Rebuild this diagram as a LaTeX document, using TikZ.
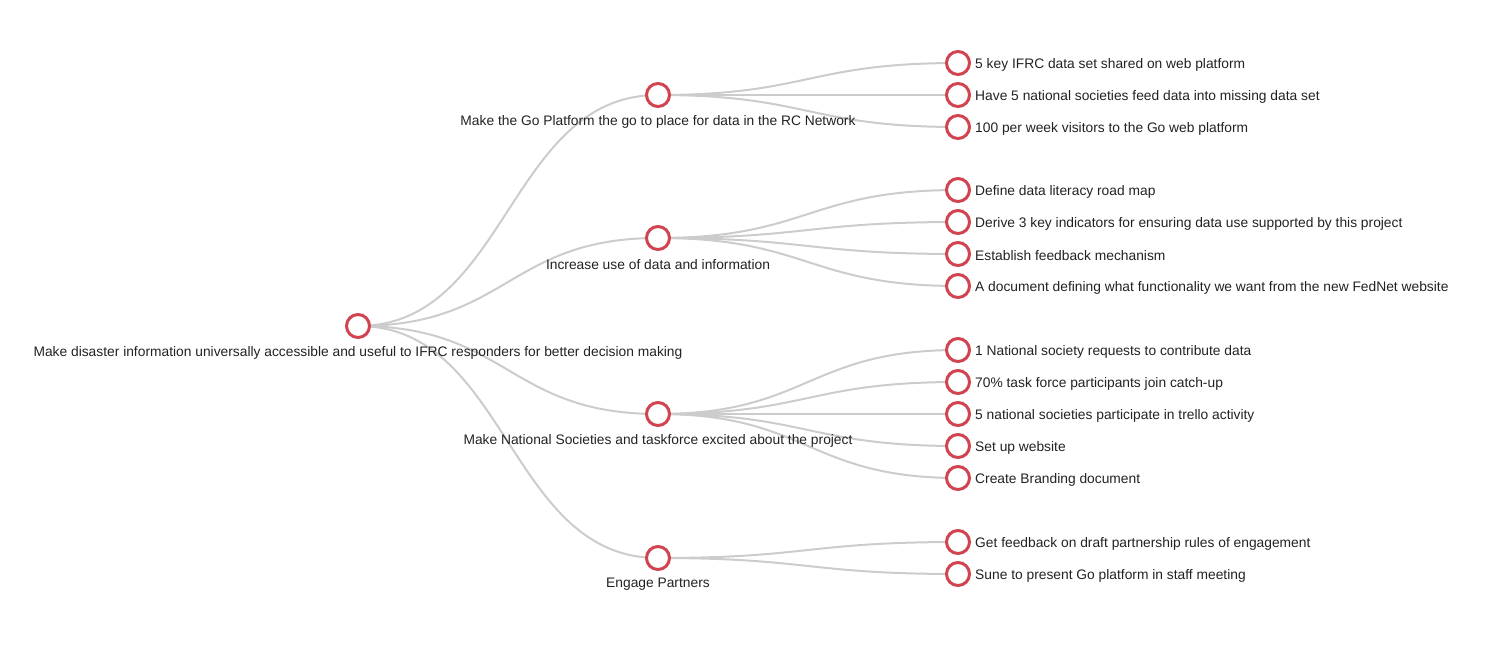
\documentclass[tikz,border=0pt]{standalone}
\usepackage{fontspec}
\setmainfont{Liberation Sans}
\usetikzlibrary{calc,backgrounds}
\definecolor{linkgray}{HTML}{CCCCCC}
\definecolor{goalred}{HTML}{D0434F}
\definecolor{textdark}{HTML}{222222}
\tikzset{
  goal/.style={circle, draw=goalred, line width=3pt, fill=white,
    minimum size=23pt, inner sep=0pt},
  link/.style={draw=linkgray, line width=2pt},
  lbl/.style={font=\fontsize{13.8}{16}\selectfont, text=textdark, inner sep=0pt},
}

\begin{document}
\begin{tikzpicture}[x=1pt, y=-1pt]
  \useasboundingbox (0,0) rectangle (1493,650);
  % root goal
  \node[goal] (root) at (358,326) {};
  \node[lbl] (root_lbl) at ($(root)+(0,26.5)$)
    {Make disaster information universally accessible and useful to IFRC responders for better decision making};
  % sub goals
  \node[goal] (go) at (658,95) {};
  \node[goal] (use) at (658,238) {};
  \node[goal] (ns) at (658,414) {};
  \node[goal] (partners) at (658,558) {};
  \node[lbl] (go_lbl) at ($(go)+(0,26.5)$) {Make the Go Platform the go to place for data in the RC Network};
  \node[lbl] (use_lbl) at ($(use)+(0,26.5)$) {Increase use of data and information};
  \node[lbl] (ns_lbl) at ($(ns)+(0,26.5)$) {Make National Societies and taskforce excited about the project};
  \node[lbl] (partners_lbl) at ($(partners)+(0,26.5)$) {Engage Partners};
  % targets
  \foreach \name/\parent/\y/\txt in {
      go_a/go/63/{5 key IFRC data set shared on web platform},
      go_b/go/95/{Have 5 national societies feed data into missing data set},
      go_c/go/127/{100 per week visitors to the Go web platform},
      use_a/use/190/{Define data literacy road map},
      use_b/use/222/{Derive 3 key indicators for ensuring data use supported by this project},
      use_c/use/254/{Establish feedback mechanism},
      use_d/use/286/{A document defining what functionality we want from the new FedNet website},
      ns_a/ns/350/{1 National society requests to contribute data},
      ns_b/ns/382/{70\% task force participants join catch-up},
      ns_c/ns/414/{5 national societies participate in trello activity},
      ns_d/ns/446/{Set up website},
      ns_e/ns/478/{Create Branding document},
      partners_a/partners/542/{Get feedback on draft partnership rules of engagement},
      partners_b/partners/574/{Sune to present Go platform in staff meeting}} {
    \node[goal] (\name) at (958,\y) {};
    \node[lbl, anchor=west] (\name_lbl) at ($(\name)+(17,1.5)$) {\txt};
    \begin{scope}[on background layer]
      \draw[link] (\parent.center) .. controls +(150,0) and +(-150,0) .. (\name.center);
    \end{scope}
  }
  % links from the root
  \begin{scope}[on background layer]
    \foreach \sub in {go,use,ns,partners}
      \draw[link] (root.center) .. controls +(150,0) and +(-150,0) .. (\sub.center);
  \end{scope}
\end{tikzpicture}
\end{document}
